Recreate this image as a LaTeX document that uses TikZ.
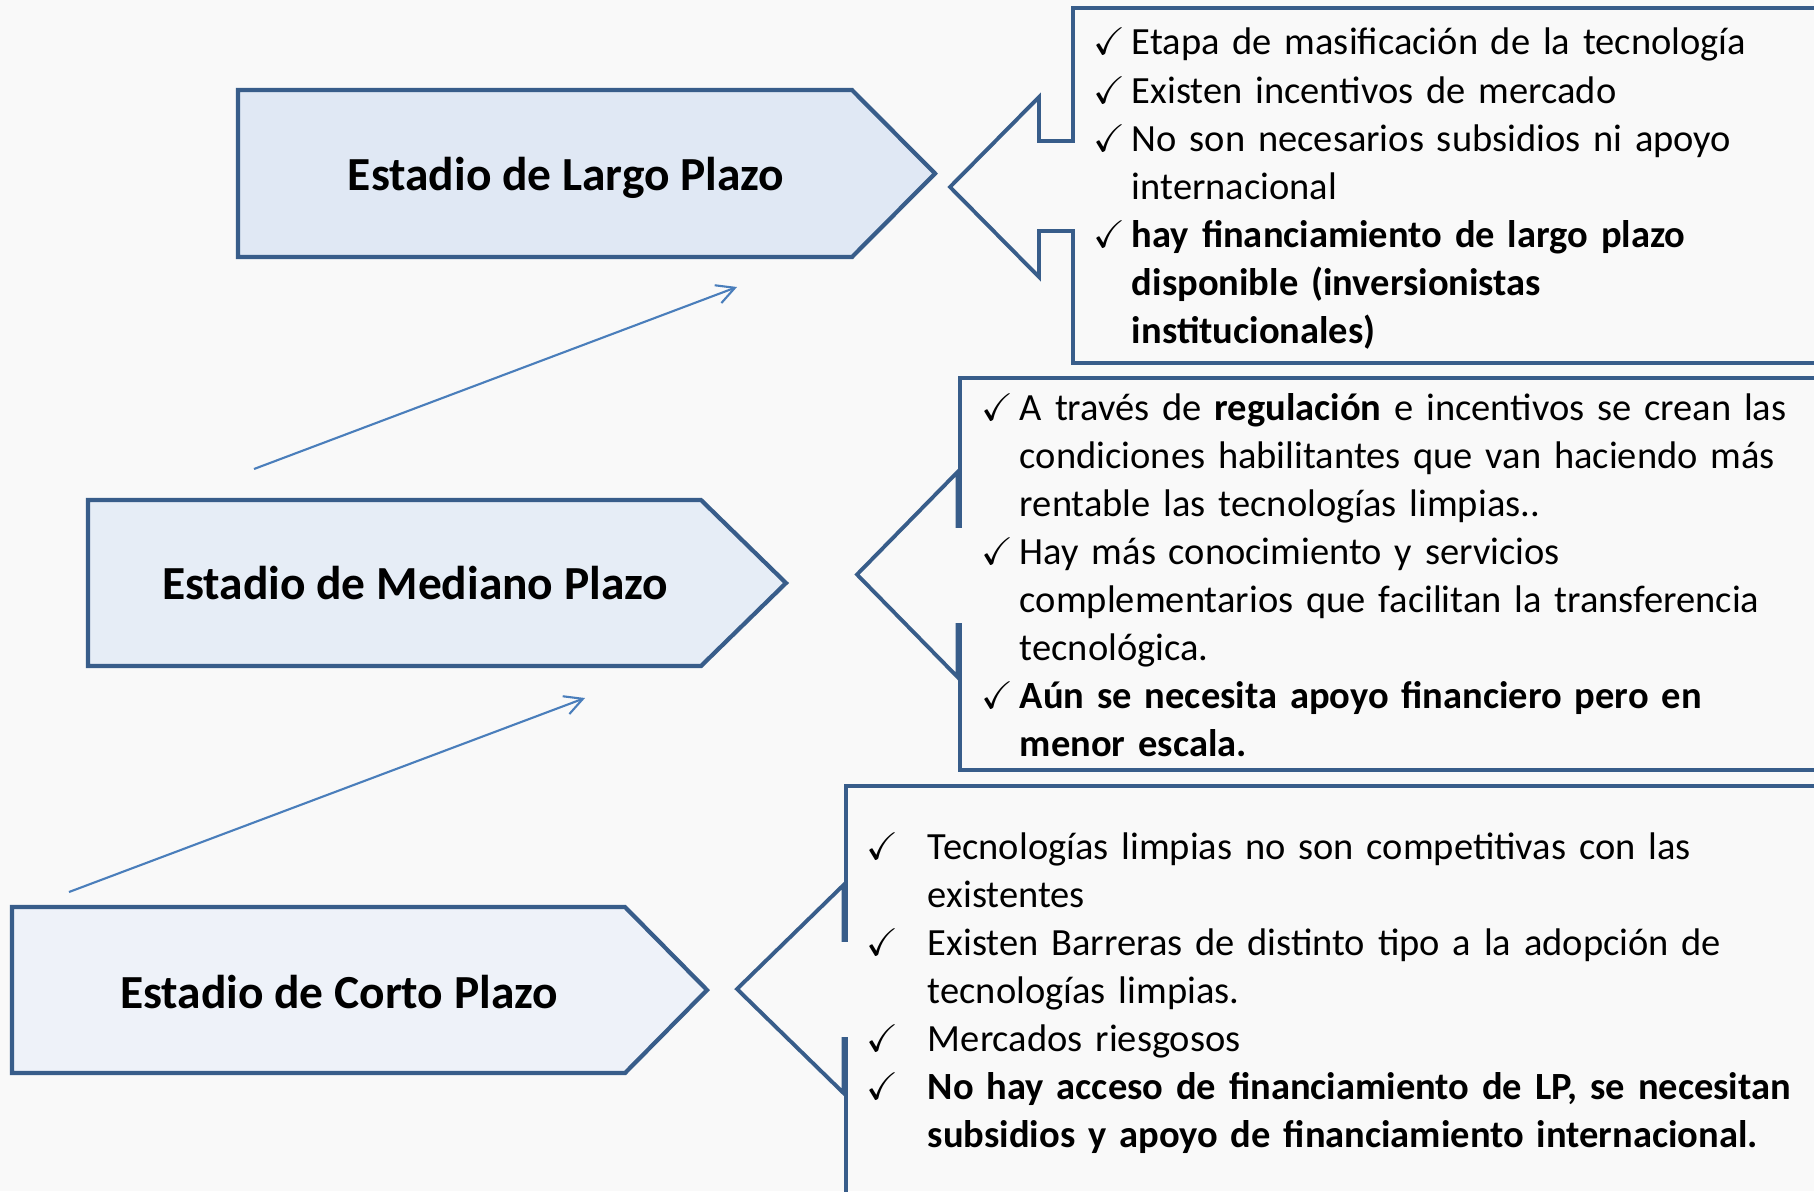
\documentclass[tikz,border=0pt]{standalone}
\usepackage{amsmath,amssymb}
\usepackage{fontspec}
\setmainfont{Carlito}
\usetikzlibrary{arrows.meta}
\setlength{\parindent}{0pt}
\definecolor{edge}{HTML}{385D8A}
\definecolor{riseblue}{HTML}{4A7EBB}
\definecolor{paper}{HTML}{F9F9F9}
\definecolor{largofill}{HTML}{E0E8F4}
\definecolor{medfill}{HTML}{E6EDF6}
\definecolor{cortofill}{HTML}{EEF2F9}
\newcommand{\okmark}[1][.6mm]{\leavevmode\llap{$\checkmark$\hspace{#1}}}

\begin{document}
\begin{tikzpicture}[x=1cm,y=1cm,line width=1.1pt,
  stage/.style={draw=edge,line width=1.2pt},
  callout/.style={draw=edge,line width=1.1pt},
  stagetext/.style={anchor=base,inner sep=0pt,font=\fontsize{13.5}{16}\selectfont\bfseries},
  items/.style={anchor=base west,inner sep=0pt,text width=9.5cm,align=left,font=\fontsize{10.95}{13.66}\selectfont},
  rise/.style={draw=riseblue,line width=.6pt,-{Straight Barb[length=1.8mm,width=1.9mm]}}]
\fill[paper] (0,0) rectangle (18.14,11.91);
\useasboundingbox (0,0) rectangle (18.14,11.91);
\clip (0,0) rectangle (18.14,11.91);

% stages
\draw[stage,fill=largofill] (2.38,11.01)--(8.52,11.01)--(9.35,10.175)--(8.52,9.34)--(2.38,9.34)--cycle;
\node[stagetext] (largo) at (5.66,10.01) {Estadio de Largo Plazo};
\draw[stage,fill=medfill] (.88,6.91)--(7.01,6.91)--(7.86,6.08)--(7.01,5.25)--(.88,5.25)--cycle;
\node[stagetext] (mediano) at (4.15,5.92) {Estadio de Mediano Plazo};
\draw[stage,fill=cortofill] (.12,2.84)--(6.25,2.84)--(7.07,2.01)--(6.25,1.18)--(.12,1.18)--cycle;
\node[stagetext] (corto) at (3.39,1.83) {Estadio de Corto Plazo};

% steps up
\coordinate (m0) at (2.54,7.22);
\coordinate (l0) at (7.37,9.04);
\coordinate (c0) at (.69,2.99);
\coordinate (m1) at (5.85,4.93);
\draw[rise] (m0)--(l0);
\draw[rise] (c0)--(m1);

% callouts
\draw[callout] (18.4,11.83)--(10.73,11.83)--(10.73,10.50)--(10.39,10.50)--(10.39,10.94)--(9.50,10.04)--(10.39,9.14)--(10.39,9.60)--(10.73,9.60)--(10.73,8.28)--(18.4,8.28);
\draw[callout] (18.4,8.13)--(9.60,8.13)--(9.60,6.65)--(9.575,6.65)--(9.575,7.19)--(8.57,6.165)--(9.575,5.14)--(9.575,5.66)--(9.60,5.66)--(9.60,4.21)--(18.4,4.21);
\draw[callout] (18.4,4.05)--(8.46,4.05)--(8.46,2.51)--(8.435,2.51)--(8.435,3.06)--(7.37,2.02)--(8.435,.98)--(8.435,1.52)--(8.46,1.52)--(8.46,-.3);

\node[items] (largoitems) at (11.30,11.36) {\okmark Etapa de masificación de la tecnología\\
\okmark Existen incentivos de mercado\\
\okmark No son necesarios subsidios ni apoyo\\
internacional\\
\okmark\textbf{hay financiamiento de largo plazo}\\
\textbf{disponible (inversionistas}\\
\textbf{institucionales)}};

\node[items] (medianoitems) at (10.18,7.71) {\okmark A través de \textbf{regulación} e incentivos se crean las\\
condiciones habilitantes que van haciendo más\\
rentable las tecnologías limpias..\\
\okmark Hay más conocimiento y servicios\\
complementarios que facilitan la transferencia\\
tecnológica.\\
\okmark\textbf{Aún se necesita apoyo financiero pero en}\\
\textbf{menor escala.}};

\node[items] (cortoitems) at (9.26,3.32) {\okmark[2.9mm]Tecnologías limpias no son competitivas con las\\
existentes\\
\okmark[2.9mm]Existen Barreras de distinto tipo a la adopción de\\
tecnologías limpias.\\
\okmark[2.9mm]Mercados riesgosos\\
\okmark[2.9mm]\textbf{No hay acceso de financiamiento de LP, se necesitan}\\
\textbf{subsidios y apoyo de financiamiento internacional.}};
\end{tikzpicture}
\end{document}
